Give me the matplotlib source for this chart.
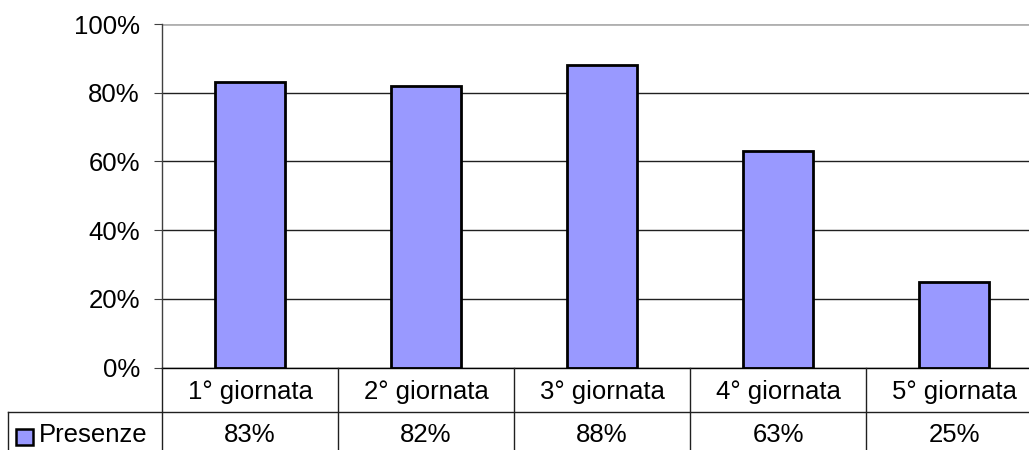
import matplotlib.pyplot as plt
import numpy as np
from matplotlib.transforms import blended_transform_factory
from matplotlib.patches import Rectangle

plt.rcParams['font.family'] = ['Liberation Sans', 'DejaVu Sans']

giornate = ['1° giornata', '2° giornata', '3° giornata', '4° giornata', '5° giornata']
presenze = [0.83, 0.82, 0.88, 0.63, 0.25]
serie = 'Presenze'
yticks = [0, 0.2, 0.4, 0.6, 0.8, 1.0]

W, H = 1029, 450
FS = 18.5
fig = plt.figure(figsize=(W / 100, H / 100), dpi=100)

# plot area runs a little past the right edge of the image
x0, x1 = 162, 1042
y_top, y_zero = 24, 367.5
ax = fig.add_axes([x0 / W, (H - y_zero) / H, (x1 - x0) / W, (y_zero - y_top) / H])

x = np.arange(len(giornate))
ax.bar(x, presenze, width=0.40, color='#9999ff', edgecolor='black', linewidth=2.0, zorder=3)

ax.set_xlim(-0.5, len(giornate) - 0.5)
ax.set_ylim(0, 1)
ax.set_yticks(yticks)
ax.set_yticklabels([f'{int(round(v * 100))}%' for v in yticks], fontsize=FS)
ax.tick_params(axis='y', length=6, width=0.8, color='#404040', pad=10)
ax.tick_params(axis='x', bottom=False, labelbottom=False)
ax.yaxis.grid(True, color='#202020', linewidth=1.0, zorder=0)
ax.get_ygridlines()[-1].set_color('#b0b0b0')
ax.get_ygridlines()[-1].set_linewidth(2.0)
for s in ['top', 'right', 'bottom']:
    ax.spines[s].set_visible(False)
ax.spines['left'].set_color('#404040')
ax.spines['left'].set_linewidth(1.0)

# data table under the chart
tr = blended_transform_factory(ax.transData, fig.transFigure)
ftr = fig.transFigure
row_line = (H - 412) / H
axis_line = (H - y_zero) / H
lc = '#202020'

fig.add_artist(plt.Line2D([x0 / W, 1], [axis_line, axis_line], color='black', lw=1.0, transform=ftr))
fig.add_artist(plt.Line2D([8 / W, 1], [row_line, row_line], color=lc, lw=1.0, transform=ftr))
fig.add_artist(plt.Line2D([8 / W, 8 / W], [0, row_line], color=lc, lw=1.0, transform=ftr))
fig.add_artist(plt.Line2D([x0 / W, x0 / W], [0, axis_line], color=lc, lw=1.0, transform=ftr))
for b in np.arange(0.5, len(giornate), 1.0):
    fig.add_artist(plt.Line2D([b, b], [0, axis_line], color=lc, lw=1.0, transform=tr))

head_y = (H - 391.5) / H
val_y = (H - 435) / H
for xi, g, v in zip(x, giornate, presenze):
    fig.text(xi, head_y, g, transform=tr, ha='center', va='center', fontsize=FS)
    fig.text(xi, val_y, f'{int(round(v * 100))}%', transform=tr, ha='center', va='center', fontsize=FS)

# legend key for the series row
fig.add_artist(Rectangle((15.5 / W, (H - 444.5) / H), 17 / W, 16 / H, facecolor='#9999ff',
                         edgecolor='black', lw=1.8, transform=ftr))
fig.text(39 / W, val_y, serie, ha='left', va='center', fontsize=FS)

fig.savefig('out.png', dpi=100)
